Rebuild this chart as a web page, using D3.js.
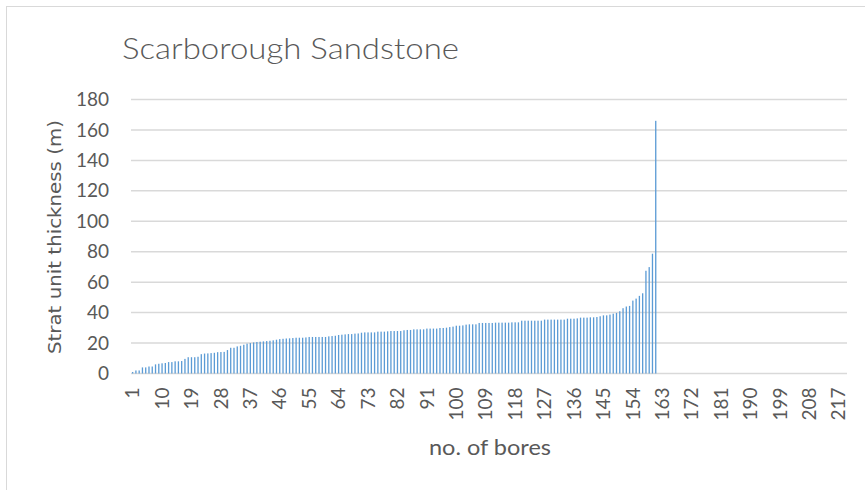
<!DOCTYPE html>
<html>
<head>
<meta charset="utf-8">
<script src="https://cdn.jsdelivr.net/npm/d3@7"></script>
<style>
  body { margin: 0; background: #fff; }
</style>
</head>
<body>
<div id="chart"></div>
<script>
// thickness of Scarborough Sandstone per bore, sorted ascending
const thickness = [
  1, 2, 2, 4, 4, 4.6, 4.6, 6, 6.4, 6.7,
  6.9, 7.5, 7.5, 8, 8, 8.2, 9.6, 10.7, 10.7, 10.7,
  11, 12.7, 13.1, 13.2, 13.4, 13.6, 14, 14.1, 14.2, 15.4,
  16.9, 16.9, 17.8, 18.2, 18.9, 19.6, 20, 20.4, 20.7, 20.9,
  21.1, 21.3, 21.5, 21.8, 22.2, 22.6, 22.8, 23, 23.1, 23.3,
  23.5, 23.5, 23.5, 23.7, 24, 24, 24, 24, 24, 24,
  24.4, 24.6, 24.8, 25.3, 25.5, 25.7, 25.9, 25.9, 26.2, 26.3,
  26.8, 27, 27, 27, 27, 27.5, 27.5, 27.5, 27.7, 27.9,
  27.9, 27.9, 27.9, 28.4, 28.6, 28.6, 29, 29, 29, 29,
  29.5, 29.5, 29.5, 29.5, 29.9, 29.9, 30.1, 30.5, 30.8, 31.4,
  31.4, 31.6, 32.1, 32.3, 32.3, 32.3, 33.2, 33.2, 33.2, 33.2,
  33.2, 33.4, 33.4, 33.4, 33.4, 33.4, 33.6, 33.6, 33.6, 34.7,
  34.7, 34.7, 34.7, 34.7, 34.7, 34.7, 35.4, 35.4, 35.4, 35.4,
  35.4, 35.4, 35.4, 36, 36, 36, 36.2, 36.7, 36.7, 36.7,
  36.9, 36.9, 37.1, 37.6, 38.2, 38.2, 38.7, 39.3, 39.8, 40.9,
  42.9, 44, 44.4, 47.9, 49.2, 51, 52.7, 67.5, 69.9, 78.7,
  166
];
const bores = d3.range(1, 220);   // category axis runs 1..219
const xTickLabels = [1, 10, 19, 28, 37, 46, 55, 64, 73, 82, 91, 100, 109, 118,
  127, 136, 145, 154, 163, 172, 181, 190, 199, 208, 217];
const yTicks = [0, 20, 40, 60, 80, 100, 120, 140, 160, 180];

const width = 865, height = 490;
const plot = { left: 131, right: 847, top: 99.5, bottom: 373.5 };
const grey = "#595959";

const svg = d3.select("#chart").append("svg")
  .attr("width", width)
  .attr("height", height)
  .style("font-family", "Lato, 'Open Sans', sans-serif");

// chart frame
svg.append("rect")
  .attr("x", 6.5).attr("y", 6.5)
  .attr("width", 880).attr("height", 500)
  .attr("fill", "#fff")
  .attr("stroke", "#d9d9d9");

const x = d3.scaleBand()
  .domain(bores)
  .range([plot.left, plot.right])
  .paddingInner(0.6)
  .paddingOuter(0.3);

const y = d3.scaleLinear()
  .domain([0, 180])
  .range([plot.bottom, plot.top]);

// gridlines
svg.append("g")
  .selectAll("line")
  .data(yTicks)
  .join("line")
    .attr("x1", plot.left)
    .attr("x2", plot.right)
    .attr("y1", d => y(d))
    .attr("y2", d => y(d))
    .attr("stroke", "#d9d9d9")
    .attr("stroke-width", 1.5);

// bars
svg.append("g")
  .selectAll("rect")
  .data(thickness)
  .join("rect")
    .attr("x", (d, i) => x(bores[i]))
    .attr("width", x.bandwidth())
    .attr("y", d => y(d))
    .attr("height", d => y(0) - y(d))
    .attr("fill", "#5b9bd5");

// y tick labels
const yAxis = svg.append("g")
  .attr("transform", `translate(109,0)`)
  .call(d3.axisLeft(y).tickValues(yTicks).tickSize(0).tickPadding(0));
yAxis.select(".domain").remove();
yAxis.selectAll("text")
  .attr("font-size", 19)
  .attr("font-family", "Lato, sans-serif")
  .attr("fill", grey);

// x tick labels, rotated
const xAxis = svg.append("g")
  .attr("transform", `translate(0,${plot.bottom})`)
  .call(d3.axisBottom(x).tickValues(xTickLabels).tickSize(0));
xAxis.select(".domain").remove();
xAxis.selectAll("text")
  .attr("font-size", 19)
  .attr("font-family", "Lato, sans-serif")
  .attr("fill", grey)
  .attr("text-anchor", "end")
  .attr("dy", "0.35em")
  .attr("transform", "translate(0,14) rotate(-90)")
  .attr("x", 0)
  .attr("y", 0);

// title
svg.append("text")
  .attr("x", 122)
  .attr("y", 59)
  .attr("font-size", 30)
  .attr("font-weight", 300)
  .attr("textLength", 337)
  .attr("lengthAdjust", "spacingAndGlyphs")
  .attr("fill", grey)
  .text("Scarborough Sandstone");

// axis titles
svg.append("text")
  .attr("transform", "translate(61,237) rotate(-90)")
  .attr("text-anchor", "middle")
  .attr("font-size", 18)
  .attr("font-family", "'DejaVu Sans', sans-serif")
  .attr("textLength", 234)
  .attr("lengthAdjust", "spacingAndGlyphs")
  .attr("fill", grey)
  .text("Strat unit thickness (m)");

svg.append("text")
  .attr("x", 490)
  .attr("y", 455)
  .attr("text-anchor", "middle")
  .attr("font-size", 21)
  .attr("textLength", 122)
  .attr("lengthAdjust", "spacingAndGlyphs")
  .attr("fill", grey)
  .text("no. of bores");
</script>
</body>
</html>
